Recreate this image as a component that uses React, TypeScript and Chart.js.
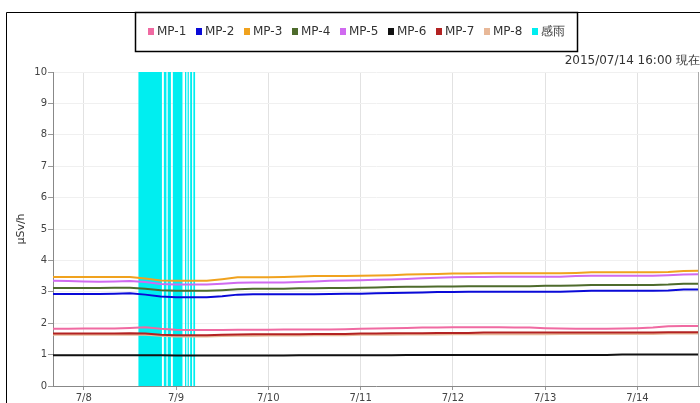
import React, { useEffect, useRef } from 'react';
import { Chart, registerables } from 'chart.js';
Chart.register(...registerables);

// hours since 2015/07/07 16:00
const timeHours = [0,4,8,12,16,20,24,28,32,36,40,44,48,52,56,60,64,68,72,76,80,84,88,92,96,100,104,108,112,116,120,124,128,132,136,140,144,148,152,156,160,164,168];

const mp1 = [1.82,1.82,1.83,1.83,1.83,1.85,1.87,1.82,1.79,1.78,1.78,1.78,1.79,1.79,1.79,1.80,1.80,1.80,1.80,1.81,1.82,1.83,1.84,1.85,1.86,1.86,1.87,1.87,1.87,1.87,1.86,1.86,1.84,1.83,1.82,1.82,1.82,1.83,1.84,1.86,1.90,1.91,1.91];
const mp2 = [2.93,2.93,2.93,2.93,2.94,2.95,2.91,2.85,2.83,2.83,2.83,2.86,2.91,2.92,2.92,2.92,2.92,2.92,2.93,2.94,2.94,2.95,2.96,2.97,2.98,2.99,2.99,3.00,3.00,3.00,3.00,3.00,3.00,3.00,3.02,3.03,3.03,3.03,3.03,3.03,3.04,3.07,3.07];
const mp3 = [3.47,3.47,3.47,3.47,3.47,3.47,3.42,3.36,3.35,3.35,3.35,3.40,3.46,3.46,3.46,3.47,3.49,3.50,3.50,3.50,3.51,3.52,3.53,3.55,3.56,3.57,3.58,3.58,3.59,3.59,3.59,3.59,3.59,3.59,3.60,3.62,3.62,3.62,3.62,3.62,3.63,3.66,3.67];
const mp4 = [3.12,3.12,3.12,3.12,3.13,3.13,3.10,3.05,3.03,3.03,3.03,3.05,3.08,3.10,3.10,3.10,3.11,3.11,3.12,3.12,3.13,3.14,3.15,3.16,3.16,3.17,3.17,3.18,3.18,3.18,3.18,3.18,3.19,3.19,3.20,3.22,3.22,3.22,3.22,3.22,3.23,3.26,3.26];
const mp5 = [3.35,3.34,3.33,3.32,3.33,3.34,3.31,3.25,3.23,3.23,3.23,3.26,3.29,3.30,3.30,3.30,3.31,3.33,3.35,3.36,3.37,3.38,3.39,3.41,3.43,3.45,3.46,3.47,3.47,3.48,3.48,3.48,3.48,3.48,3.50,3.51,3.51,3.51,3.51,3.51,3.53,3.55,3.56];
const mp6 = [0.98,0.98,0.98,0.98,0.98,0.98,0.98,0.98,0.97,0.97,0.97,0.97,0.97,0.97,0.97,0.97,0.98,0.98,0.98,0.98,0.98,0.98,0.98,0.99,0.99,0.99,0.99,0.99,0.99,0.99,0.99,0.99,0.99,0.99,0.99,0.99,0.99,1.00,1.00,1.00,1.00,1.00,1.00];
const mp7 = [1.67,1.67,1.67,1.67,1.67,1.68,1.67,1.63,1.62,1.62,1.62,1.63,1.64,1.65,1.65,1.65,1.65,1.66,1.66,1.66,1.67,1.67,1.68,1.68,1.68,1.69,1.69,1.69,1.70,1.70,1.70,1.70,1.70,1.70,1.70,1.70,1.70,1.70,1.70,1.70,1.71,1.71,1.71];
const mp8 = [1.63,1.63,1.63,1.63,1.63,1.64,1.63,1.60,1.58,1.58,1.58,1.59,1.60,1.60,1.61,1.61,1.61,1.62,1.62,1.62,1.63,1.63,1.63,1.64,1.64,1.64,1.65,1.65,1.65,1.65,1.65,1.65,1.65,1.66,1.66,1.66,1.66,1.66,1.66,1.66,1.67,1.67,1.67];

const seriesLabels = ['MP-1','MP-2','MP-3','MP-4','MP-5','MP-6','MP-7','MP-8'];
const seriesValues = [mp1, mp2, mp3, mp4, mp5, mp6, mp7, mp8];
const seriesColors = ['#f06aa2','#0a0ad8','#f0a21e','#4e6b2c','#d06af0','#111111','#b32222','#e8b898'];

// rain sensor (感雨) periods, hours since start
const rainLabel = '感雨';
const rainColor = '#00eef0';
const rainIntervals = [[22.17,28.33],[28.83,29.5],[29.83,30.67],[31.17,33.67],[34.33,34.67],[35.0,35.33],[35.67,36.17],[36.5,37.0]];
const rainLevel = 10;

const tickHours = [8,32,56,80,104,128,152];
const tickLabels = ['7/8','7/9','7/10','7/11','7/12','7/13','7/14'];
const yTitle = 'μSv/h';
const stampText = '2015/07/14 16:00 現在';

const FONT = '"DejaVu Sans", sans-serif';

const decorPlugin = {
  id: 'decor',
  afterDraw(chart: any) {
    const ctx = chart.ctx;
    const area = chart.chartArea;
    ctx.save();
    // right edge of plot
    ctx.strokeStyle = '#aaaaaa';
    ctx.lineWidth = 1;
    ctx.beginPath();
    ctx.moveTo(area.right - 0.5, area.top);
    ctx.lineTo(area.right - 0.5, area.bottom);
    ctx.stroke();
    // outer frame
    ctx.strokeStyle = '#000';
    ctx.lineWidth = 1;
    ctx.beginPath();
    ctx.moveTo(6.5, chart.height);
    ctx.lineTo(6.5, 12.5);
    ctx.lineTo(chart.width, 12.5);
    ctx.stroke();
    // legend box
    ctx.fillStyle = '#fff';
    ctx.fillRect(135, 12, 443, 40);
    ctx.lineWidth = 1.5;
    ctx.strokeRect(135.5, 12.5, 442, 39);
    ctx.font = '12px ' + FONT;
    ctx.textBaseline = 'middle';
    ctx.textAlign = 'left';
    let x = 148;
    const items = seriesLabels.map((l, i) => ({ label: l, color: seriesColors[i] }));
    items.push({ label: rainLabel, color: rainColor });
    items.forEach((it) => {
      ctx.fillStyle = it.color;
      ctx.fillRect(x, 28, 6, 7);
      ctx.fillStyle = '#333';
      ctx.fillText(it.label, x + 9, 31.5);
      x += 48;
    });
    // timestamp
    ctx.textAlign = 'right';
    ctx.textBaseline = 'alphabetic';
    ctx.fillStyle = '#333';
    ctx.fillText(stampText, 700, 64);
    ctx.restore();
  },
};

export default function App() {
  const ref = useRef<HTMLCanvasElement>(null);
  useEffect(() => {
    document.body.style.margin = '0';
    const lineSets = seriesLabels.map((label, i) => ({
      type: 'line' as const,
      label,
      data: timeHours.map((h, j) => ({ x: h, y: seriesValues[i][j] })),
      borderColor: seriesColors[i],
      backgroundColor: seriesColors[i],
      borderWidth: 2,
      pointRadius: 0,
      tension: 0,
      fill: false,
    }));
    const rainPoints: { x: number; y: number }[] = [];
    rainIntervals.forEach(([s, e]) => {
      rainPoints.push({ x: s, y: 0 }, { x: s, y: rainLevel }, { x: e, y: rainLevel }, { x: e, y: 0 });
    });
    const rainSet = {
      type: 'line' as const,
      label: rainLabel,
      data: rainPoints,
      borderColor: 'rgba(0,0,0,0)',
      backgroundColor: rainColor,
      borderWidth: 0,
      pointRadius: 0,
      tension: 0,
      fill: 'origin',
    };
    const chart = new Chart(ref.current!, {
      type: 'line',
      data: { datasets: [...lineSets, rainSet] as any },
      options: {
        animation: false,
        responsive: false,
        devicePixelRatio: 1,
        layout: { padding: { top: 72, right: 1, bottom: 0, left: 0 } },
        plugins: { legend: { display: false }, tooltip: { enabled: false } },
        scales: {
          x: {
            type: 'linear',
            min: 0,
            max: 168,
            afterFit: (s: any) => { s.height = 17; },
            afterBuildTicks: (s: any) => { s.ticks = tickHours.map((v) => ({ value: v })); },
            ticks: {
              callback: (_v: any, i: number) => tickLabels[i],
              font: { family: FONT, size: 10 },
              color: '#444',
              padding: 2,
              maxRotation: 0,
              autoSkip: false,
            },
            grid: { color: '#e2e2e2', tickLength: 4, tickColor: '#999' },
            border: { color: '#888' },
          },
          y: {
            min: 0,
            max: 10,
            afterFit: (s: any) => { s.width = 53; },
            ticks: { stepSize: 1, font: { family: FONT, size: 10 }, color: '#444', padding: 1 },
            grid: { color: '#f0f0f0', tickLength: 5, tickColor: '#999' },
            border: { color: '#888' },
            title: { display: true, text: yTitle, font: { family: FONT, size: 11 }, color: '#333', padding: { top: 15, bottom: 0 } },
          },
        },
      },
      plugins: [decorPlugin],
    });
    return () => chart.destroy();
  }, []);
  return <canvas ref={ref} width={700} height={403} style={{ display: 'block' }} />;
}
